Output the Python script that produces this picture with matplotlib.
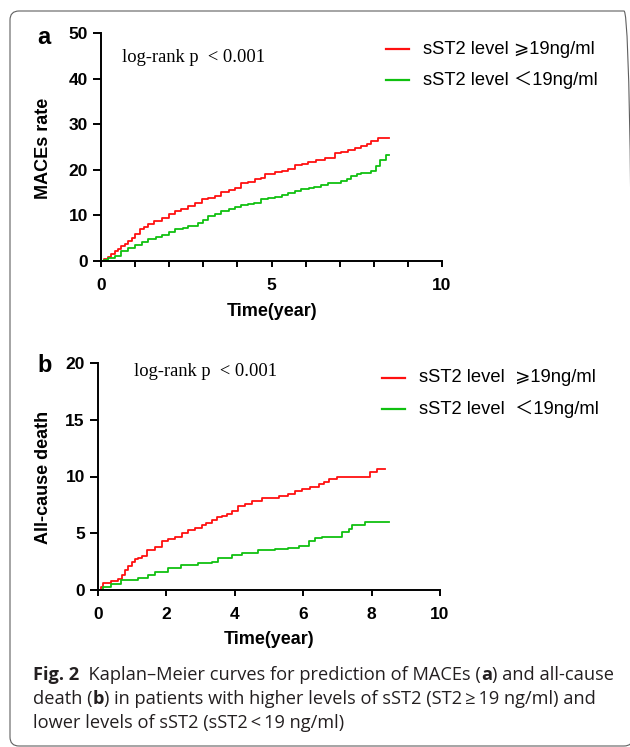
import matplotlib
matplotlib.use("Agg")
import matplotlib.pyplot as plt
from matplotlib.lines import Line2D
from matplotlib.patches import FancyBboxPatch
from matplotlib.transforms import IdentityTransform

# ---------------- data ----------------
a_high_t = [0, 0.1, 0.21, 0.3, 0.41, 0.5, 0.6, 0.7, 0.8, 0.9, 1.0, 1.14, 1.25, 1.39, 1.55, 1.78,
            2.0, 2.17, 2.35, 2.56, 2.75, 2.95, 3.15, 3.34, 3.53, 3.75, 3.92, 4.12, 4.3, 4.51, 4.7,
            4.8, 5.09, 5.3, 5.48, 5.68, 5.9, 6.07, 6.3, 6.56, 6.85, 7.05, 7.24, 7.45, 7.63, 7.8,
            7.93, 8.12, 8.45]
a_high_v = [0, 0.5, 0.95, 1.5, 2.1, 2.6, 3.2, 3.8, 4.3, 5.0, 6.0, 7.0, 7.5, 8.1, 8.7, 9.4,
            10.2, 11.0, 11.5, 12.1, 12.8, 13.5, 13.9, 14.3, 15.1, 15.5, 16.0, 17.1, 17.4, 17.9, 18.3,
            19.0, 19.5, 19.7, 20.1, 21.0, 21.3, 21.7, 22.1, 22.6, 23.6, 23.9, 24.3, 24.8, 25.2, 25.6,
            26.3, 27.0, 27.0]
a_low_t = [0, 0.1, 0.21, 0.41, 0.6, 0.8, 1.0, 1.2, 1.39, 1.6, 1.78, 2.0, 2.17, 2.4, 2.56, 2.85,
           3.0, 3.14, 3.35, 3.53, 3.75, 3.92, 4.1, 4.31, 4.5, 4.7, 4.9, 5.09, 5.3, 5.48, 5.7, 5.87,
           6.1, 6.26, 6.45, 6.65, 6.85, 7.04, 7.2, 7.34, 7.5, 7.63, 7.93, 8.07, 8.17, 8.28, 8.36, 8.46]
a_low_v = [0, 0.3, 0.6, 1.1, 2.1, 2.8, 3.5, 4.1, 4.8, 5.3, 5.7, 6.3, 7.0, 7.3, 7.6, 8.3,
           9.0, 9.9, 10.4, 10.9, 11.4, 11.8, 12.3, 12.6, 12.8, 13.5, 13.8, 14.0, 14.4, 14.9, 15.3, 15.8,
           16.0, 16.3, 16.6, 17.0, 17.2, 17.5, 18.0, 18.6, 19.0, 19.3, 19.7, 20.8, 22.1, 22.1, 23.2, 23.2]

b_high_t = [0, 0.1, 0.15, 0.39, 0.59, 0.7, 0.78, 0.88, 0.98, 1.08, 1.17, 1.3, 1.42, 1.66, 1.86,
            2.05, 2.25, 2.45, 2.64, 2.85, 3.03, 3.17, 3.32, 3.47, 3.62, 3.77, 3.91, 4.1, 4.3, 4.5,
            4.79, 5.28, 5.57, 5.75, 5.96, 6.2, 6.45, 6.6, 6.74, 7.0, 7.8, 7.95, 8.15, 8.4]
b_high_v = [0, 0.3, 0.6, 0.75, 1.0, 1.3, 1.8, 2.1, 2.5, 2.7, 2.8, 3.0, 3.5, 3.8, 4.3,
            4.5, 4.7, 5.0, 5.3, 5.5, 5.7, 5.9, 6.2, 6.4, 6.5, 6.7, 7.0, 7.4, 7.6, 7.8,
            8.1, 8.3, 8.5, 8.7, 8.9, 9.1, 9.3, 9.5, 9.8, 9.95, 9.95, 10.4, 10.65, 10.65]
b_low_t = [0, 0.15, 0.39, 0.68, 1.17, 1.47, 1.66, 2.05, 2.44, 2.93, 3.32, 3.52, 3.91, 4.2,
           4.69, 5.18, 5.57, 5.87, 6.16, 6.35, 6.55, 6.99, 7.14, 7.33, 7.43, 7.82, 8.5]
b_low_v = [0, 0.3, 0.5, 0.9, 1.1, 1.3, 1.6, 1.9, 2.2, 2.35, 2.5, 2.8, 3.1, 3.3,
           3.5, 3.6, 3.7, 3.9, 4.3, 4.6, 4.65, 4.65, 5.1, 5.4, 5.75, 6.0, 6.0]

a_yticks = [0, 10, 20, 30, 40, 50]
a_xticks = [0, 5, 10]
b_yticks = [0, 5, 10, 15, 20]
b_xticks = [0, 2, 4, 6, 8, 10]

legend_a = ["sST2 level \u2a7e19ng/ml", "sST2 level \uff1c19ng/ml"]
legend_b = ["sST2 level  \u2a7e19ng/ml", "sST2 level  \uff1c19ng/ml"]
pval_text = "log-rank p  < 0.001"

caption_lines = [
    [("Fig. 2", "bold"), ("  Kaplan\u2013Meier curves for prediction of MACEs (", "normal"),
     ("a", "bold"), (") and all-cause", "normal")],
    [("death (", "normal"), ("b", "bold"),
     (") in patients with higher levels of sST2 (ST2\u2009\u2265\u200919 ng/ml) and", "normal")],
    [("lower levels of sST2 (sST2\u2009<\u200919 ng/ml)", "normal")],
]

RED = "#ff1010"
GREEN = "#10c010"

W, H = 630, 747
fig = plt.figure(figsize=(W / 100, H / 100), dpi=100)
fig.patch.set_facecolor("white")

SANS = ["Liberation Sans", "DejaVu Sans", "Noto Sans CJK SC"]
LEG = ["Liberation Sans", "DejaVu Sans", "Noto Sans CJK SC"]
CAP = ["Open Sans", "DejaVu Sans"]


def fx(x):
    return x / W


def fy(y):
    return 1 - y / H


# outer rounded frame
frame = FancyBboxPatch((10, 1), 623, 735, boxstyle="round,pad=0,rounding_size=9",
                       transform=IdentityTransform(), facecolor="none",
                       edgecolor="#5f5f5f", lw=0.8)
fig.add_artist(frame)


def style_axes(ax, xticks, yticks, ylim, minor_x=None):
    for s in ["top", "right"]:
        ax.spines[s].set_visible(False)
    for s in ["left", "bottom"]:
        ax.spines[s].set_linewidth(1.4)
        ax.spines[s].set_color("black")
    ax.set_xlim(0, 10)
    ax.set_ylim(*ylim)
    ax.set_xticks(xticks)
    ax.set_yticks(yticks)
    if minor_x is not None:
        ax.set_xticks(minor_x, minor=True)
    ax.tick_params(which="both", direction="out", width=1.4, color="black")
    ax.tick_params(axis="x", which="both", length=4, pad=8)
    ax.tick_params(axis="y", which="both", length=6, pad=3.5)
    for lab in ax.get_xticklabels() + ax.get_yticklabels():
        lab.set_fontfamily(SANS)
        lab.set_fontweight("bold")
        lab.set_fontsize(12.5)
    ax.set_facecolor("none")


# ---------------- panel a ----------------
ax_a = fig.add_axes([fx(101), fy(261), (442 - 101) / W, (261 - 33) / H])
ax_a.plot(a_high_t, a_high_v, drawstyle="steps-post", color=RED, lw=1.3)
ax_a.plot(a_low_t, a_low_v, drawstyle="steps-post", color=GREEN, lw=1.3)
style_axes(ax_a, a_xticks, a_yticks, (0, 50), minor_x=list(range(0, 11)))

# ---------------- panel b ----------------
ax_b = fig.add_axes([fx(98), fy(590), (440 - 98) / W, (590 - 363) / H])
ax_b.plot(b_high_t, b_high_v, drawstyle="steps-post", color=RED, lw=1.3)
ax_b.plot(b_low_t, b_low_v, drawstyle="steps-post", color=GREEN, lw=1.3)
style_axes(ax_b, b_xticks, b_yticks, (0, 20))


# ---------------- texts ----------------
def ftext(x, y, s, **kw):
    return fig.text(fx(x), fy(y), s, **kw)


for (lx, ly, lab) in [(44, 38, "a"), (45, 366, "b")]:
    ftext(lx, ly, lab, ha="center", va="center", fontsize=17, fontweight="bold", family=SANS)

ftext(44, 148, "MACEs rate", rotation=90, ha="center", va="center", fontsize=13,
      fontweight="bold", family=SANS)
ftext(272, 311, "Time(year)", ha="center", va="center", fontsize=13, fontweight="bold", family=SANS)
ftext(44, 477, "All-cause death", rotation=90, ha="center", va="center", fontsize=13,
      fontweight="bold", family=SANS)
ftext(269, 640, "Time(year)", ha="center", va="center", fontsize=13, fontweight="bold", family=SANS)

ftext(122, 58, pval_text, ha="left", va="center", fontsize=13.3, family=["Liberation Serif"])
ftext(134, 372, pval_text, ha="left", va="center", fontsize=13.3, family=["Liberation Serif"])

# legends (manual)
for (x0, x1, xt, ys, labels) in [(386, 409, 423, (49, 80), legend_a),
                                 (382, 405, 419, (378, 409), legend_b)]:
    for yy, col, lab in zip(ys, [RED, GREEN], labels):
        fig.add_artist(Line2D([fx(x0), fx(x1)], [fy(yy), fy(yy)], transform=fig.transFigure,
                              color=col, lw=1.6))
        ftext(xt, yy, lab, ha="left", va="center", fontsize=13.2, family=LEG)

# ---------------- caption ----------------
renderer = fig.canvas.get_renderer()


def piece_widths(pieces, size):
    ws = []
    for s, w in pieces:
        t = fig.text(0, 0, s, fontsize=size, fontweight=w, family=CAP)
        ws.append(t.get_window_extent(renderer).width)
        t.remove()
    return ws


test = 12.0
w1 = sum(piece_widths(caption_lines[0], test))
cap_size = test * (612 - 33) / w1

cap_baselines = [680, 704, 728]
for yb, pieces in zip(cap_baselines, caption_lines):
    ws = piece_widths(pieces, cap_size)
    x = 33
    for (s, w), wd in zip(pieces, ws):
        ftext(x, yb, s, ha="left", va="baseline", fontsize=cap_size, fontweight=w,
              family=CAP, color="#231f20")
        x += wd

fig.savefig("out.png", dpi=100)
